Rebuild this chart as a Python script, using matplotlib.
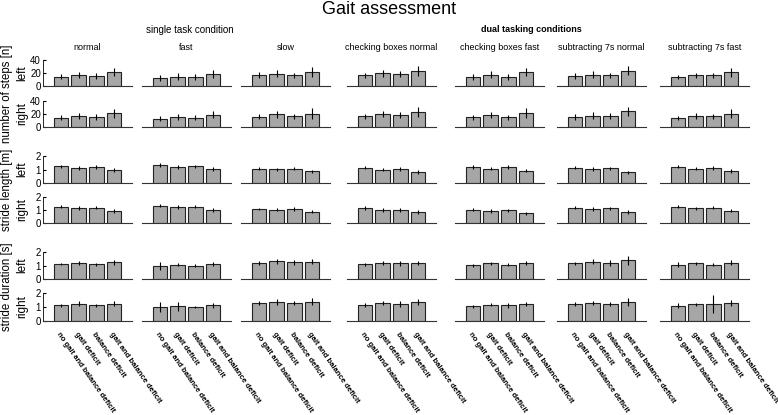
import matplotlib
matplotlib.use('Agg')
import matplotlib.pyplot as plt
import numpy as np

plt.rcParams['font.family'] = ['Liberation Sans', 'DejaVu Sans']

conditions = ['normal', 'fast', 'slow', 'checking boxes normal', 'checking boxes fast',
              'subtracting 7s normal', 'subtracting 7s fast']
groups = ['no gait and balance deficit', 'gait deficit', 'balance deficit',
          'gait and balance deficit']

# mean values [condition][group]
steps_left = [[14.4, 17.0, 15.4, 21.5], [12.3, 14.4, 13.8, 19.0], [17.0, 19.0, 16.4, 21.5],
              [16.4, 19.5, 18.5, 23.0], [13.8, 17.4, 13.8, 21.0], [15.4, 17.4, 16.4, 23.6],
              [13.8, 16.4, 16.4, 21.0]]
steps_left_err = [[4, 4, 4, 6], [4, 5, 4, 6], [4, 5, 4, 7], [4, 5, 5, 8],
                  [4, 5, 4, 6], [4, 5, 4, 7], [3, 4, 4, 7]]
steps_right = [[14.0, 17.0, 15.5, 21.0], [12.5, 15.0, 14.5, 19.0], [16.0, 19.5, 16.5, 20.5],
               [16.5, 20.0, 18.5, 23.0], [15.0, 18.5, 15.0, 21.5], [15.5, 17.5, 17.0, 24.0],
               [14.0, 17.0, 16.5, 20.5]]
steps_right_err = [[4, 4, 4, 7], [4, 5, 4, 5], [4, 5, 4, 8], [4, 5, 5, 8],
                   [4, 5, 4, 7], [4, 5, 4, 7], [3, 4, 4, 7]]

length_left = [[1.23, 1.09, 1.19, 0.94], [1.36, 1.19, 1.23, 1.01], [1.06, 1.01, 1.06, 0.86],
               [1.14, 0.99, 1.04, 0.81], [1.21, 1.06, 1.16, 0.91], [1.14, 1.01, 1.09, 0.79],
               [1.21, 1.06, 1.14, 0.89]]
length_left_err = [[0.12, 0.15, 0.12, 0.15], [0.15, 0.15, 0.12, 0.15], [0.12, 0.12, 0.12, 0.12],
                   [0.12, 0.12, 0.15, 0.18], [0.15, 0.12, 0.15, 0.12], [0.12, 0.15, 0.12, 0.12],
                   [0.12, 0.12, 0.15, 0.15]]
length_right = [[1.25, 1.13, 1.18, 0.95], [1.33, 1.24, 1.24, 1.03], [1.08, 1.03, 1.08, 0.87],
                [1.16, 0.97, 1.03, 0.82], [1.02, 0.92, 0.97, 0.76], [1.18, 1.08, 1.13, 0.85],
                [1.26, 1.13, 1.16, 0.94]]
length_right_err = [[0.12, 0.15, 0.12, 0.15], [0.12, 0.15, 0.12, 0.15], [0.10, 0.12, 0.12, 0.12],
                    [0.15, 0.15, 0.15, 0.15], [0.12, 0.12, 0.12, 0.12], [0.12, 0.15, 0.12, 0.12],
                    [0.10, 0.12, 0.12, 0.12]]

dur_left = [[1.10, 1.20, 1.10, 1.24], [0.98, 1.07, 1.00, 1.10], [1.20, 1.32, 1.24, 1.29],
            [1.10, 1.20, 1.15, 1.22], [1.02, 1.15, 1.07, 1.20], [1.15, 1.29, 1.20, 1.39],
            [1.07, 1.17, 1.07, 1.22]]
dur_left_err = [[0.08, 0.15, 0.12, 0.20], [0.30, 0.12, 0.10, 0.15], [0.15, 0.18, 0.18, 0.18],
                [0.12, 0.15, 0.15, 0.15], [0.12, 0.12, 0.12, 0.15], [0.12, 0.20, 0.20, 0.35],
                [0.20, 0.10, 0.10, 0.20]]
dur_right = [[1.12, 1.22, 1.12, 1.24], [0.98, 1.05, 1.00, 1.12], [1.30, 1.34, 1.27, 1.37],
             [1.17, 1.27, 1.20, 1.34], [1.05, 1.17, 1.12, 1.22], [1.20, 1.27, 1.24, 1.34],
             [1.10, 1.20, 1.22, 1.27]]
dur_right_err = [[0.10, 0.18, 0.10, 0.20], [0.35, 0.30, 0.08, 0.18], [0.15, 0.20, 0.15, 0.25],
                 [0.15, 0.15, 0.20, 0.20], [0.10, 0.12, 0.20, 0.15], [0.15, 0.15, 0.15, 0.30],
                 [0.20, 0.12, 0.65, 0.20]]

rows = [(steps_left, steps_left_err, 40, [0, 20, 40]),
        (steps_right, steps_right_err, 40, [0, 20, 40]),
        (length_left, length_left_err, 2, [0, 1, 2]),
        (length_right, length_right_err, 2, [0, 1, 2]),
        (dur_left, dur_left_err, 2, [0, 1, 2]),
        (dur_right, dur_right_err, 2, [0, 1, 2])]

W, H = 778, 415
fig = plt.figure(figsize=(W / 100, H / 100), dpi=100)

col_left = [43, 142, 241, 347, 455, 557, 660]
col_w = 89
row_top = [60, 101, 156, 197, 252, 293]
row_bot = [86, 127, 183, 223, 279, 321]

x = np.arange(1, 5)
for r, (vals, errs, ymax, yt) in enumerate(rows):
    for c in range(7):
        ax = fig.add_axes([col_left[c] / W, 1 - row_bot[r] / H, col_w / W,
                           (row_bot[r] - row_top[r]) / H])
        ax.bar(x, vals[c], width=0.8, color='#a6a6a6', edgecolor='#222222', linewidth=0.8)
        ax.errorbar(x, vals[c], yerr=errs[c], fmt='none', ecolor='black',
                    elinewidth=0.8, capsize=0)
        ax.set_xlim(0, 5)
        ax.set_ylim(0, ymax)
        for s in ['top', 'right']:
            ax.spines[s].set_visible(False)
        ax.spines['bottom'].set_color('#333333')
        ax.spines['bottom'].set_linewidth(0.8)
        if c == 0:
            ax.set_yticks(yt)
            ax.tick_params(axis='y', direction='in', length=2, labelsize=7, pad=1.5)
            ax.spines['left'].set_linewidth(0.6)
        else:
            ax.spines['left'].set_visible(False)
            ax.set_yticks([])
        if r == 5:
            ax.set_xticks(x)
            ax.set_xticklabels(groups, rotation=-55, ha='left', va='top',
                               rotation_mode='anchor', fontsize=5.5, fontweight='bold')
            ax.tick_params(axis='x', length=0, pad=7)
        else:
            ax.set_xticks([])
        if r == 0:
            ax.set_title(conditions[c], fontsize=6.5, pad=7)

# side labels
for r, side in enumerate(['left', 'right'] * 3):
    yc = (row_top[r] + row_bot[r]) / 2
    fig.text(22 / W, 1 - yc / H, side, rotation=90, ha='center', va='center', fontsize=8.5)
for i, lab in enumerate(['number of steps [n]', 'stride length [m]', 'stride duration [s]']):
    yc = (row_top[2 * i] + row_bot[2 * i + 1]) / 2
    fig.text(7 / W, 1 - yc / H, lab, rotation=90, ha='center', va='center', fontsize=8.3)

fig.text(389 / W, 1 - 9 / H, 'Gait assessment', ha='center', va='center', fontsize=13)
fig.text(190 / W, 1 - 30 / H, 'single task condition', ha='center', va='center', fontsize=7)
fig.text(531 / W, 1 - 30 / H, 'dual tasking conditions', ha='center', va='center',
         fontsize=6.5, fontweight='bold')

fig.savefig('out.png', dpi=100)
